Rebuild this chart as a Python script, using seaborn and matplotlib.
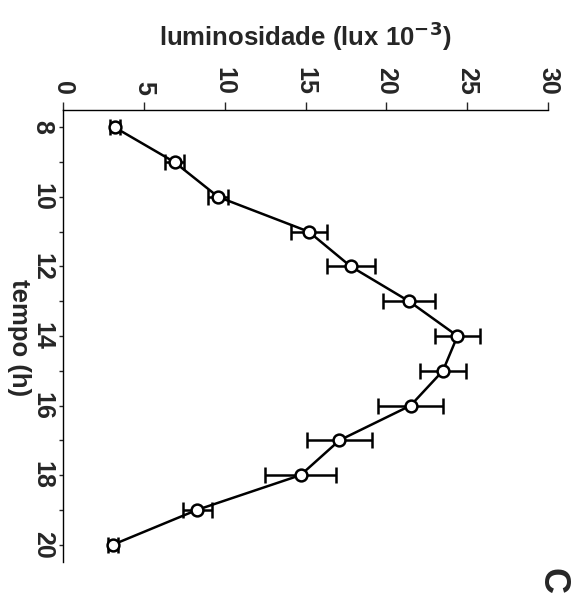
import numpy as np
import pandas as pd
import seaborn as sns
import matplotlib
matplotlib.use("Agg")
import matplotlib.pyplot as plt

tempo = [8, 9, 10, 11, 12, 13, 14, 15, 16, 17, 18, 19, 20]
lux = [3.2, 6.9, 9.6, 15.2, 17.8, 21.4, 24.4, 23.5, 21.5, 17.1, 14.7, 8.3, 3.1]
erro = [0.3, 0.6, 0.6, 1.1, 1.5, 1.6, 1.4, 1.4, 2.0, 2.0, 2.2, 0.9, 0.3]
lux_ticks = [0, 5, 10, 15, 20, 25, 30]
tempo_ticks = [8, 10, 12, 14, 16, 18, 20]

df = pd.DataFrame({"tempo": tempo, "lux": lux, "erro": erro})

sns.set_style("white")
plt.rcParams["font.family"] = ["Liberation Sans", "DejaVu Sans"]
plt.rcParams["font.weight"] = "bold"
plt.rcParams["mathtext.default"] = "bf"

fig = plt.figure(figsize=(5.8, 6.03), dpi=100)
ax = fig.add_axes([63 / 580, 1 - 562 / 603, (548 - 63) / 580, (562 - 110) / 603])

ax.errorbar(df["lux"], df["tempo"], xerr=df["erro"], fmt="none", ecolor="black",
            elinewidth=1.8, capsize=6, capthick=1.8, zorder=2)
sns.lineplot(data=df, x="lux", y="tempo", sort=False, color="black", linewidth=1.8,
             marker="o", markersize=8.5, markerfacecolor="white", markeredgecolor="black",
             markeredgewidth=1.8, ax=ax, zorder=3)

ax.set_xlim(0, 30)
ax.set_ylim(20.5, 7.5)
ax.xaxis.tick_top()
ax.xaxis.set_label_position("top")
ax.set_xticks(lux_ticks)
ax.set_xticklabels([str(v) for v in lux_ticks], rotation=-90, fontsize=18, fontweight="bold")
ax.set_yticks(tempo_ticks)
ax.set_yticklabels([str(v) for v in tempo_ticks], rotation=-90, fontsize=18, fontweight="bold",
                   va="center")
ax.set_yticks(range(9, 20, 2), minor=True)
ax.tick_params(axis="x", which="major", direction="out", length=6, width=1, pad=5, top=True, bottom=False)
ax.tick_params(axis="y", which="major", direction="out", length=3, width=1, pad=3, left=True)
ax.tick_params(axis="y", which="minor", direction="out", length=3, width=1, left=True)

for s in ["right", "bottom"]:
    ax.spines[s].set_visible(False)
for s in ["top", "left"]:
    ax.spines[s].set_linewidth(1.0)
    ax.spines[s].set_color("black")

ax.set_xlabel("luminosidade (lux 10$^{-3}$)", fontsize=18.5, fontweight="bold")
ax.xaxis.set_label_coords(0.499, 1.142)
ax.set_ylabel("tempo (h)", fontsize=18.5, fontweight="bold", rotation=-90, va="center", ha="center")
ax.yaxis.set_label_coords(-0.091, 0.496)

fig.text(552 / 580, 1 - 581 / 603, "C", fontsize=26, fontweight="bold", rotation=-90,
         ha="center", va="center")

fig.savefig("out.png", dpi=100)
